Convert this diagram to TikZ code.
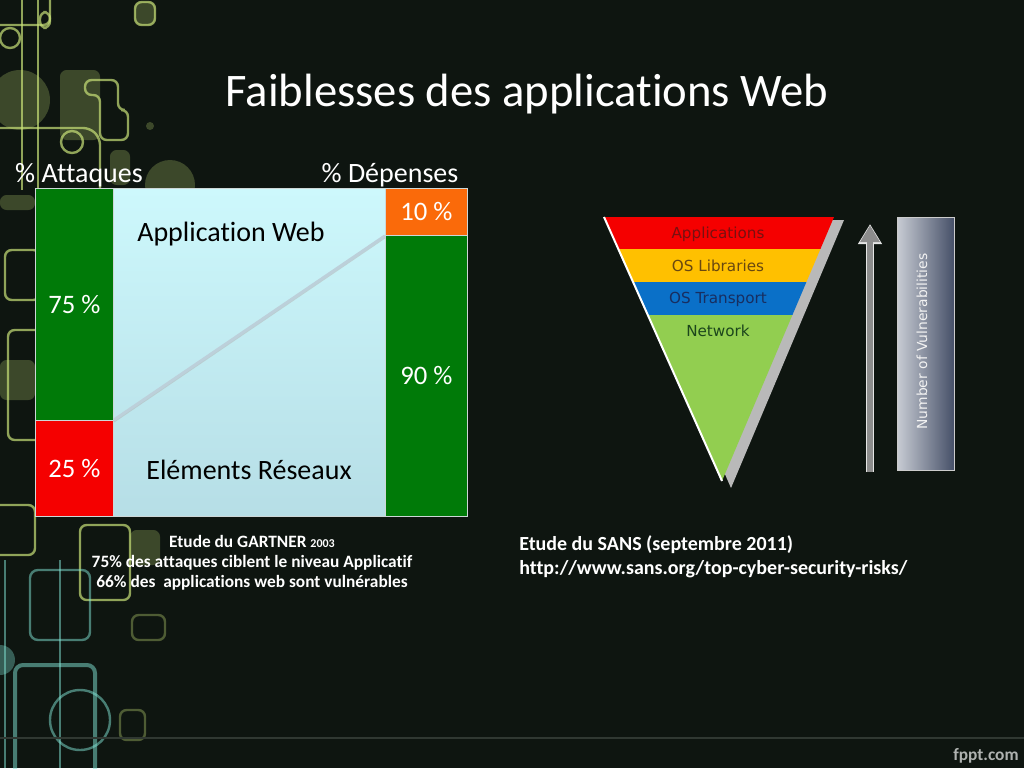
\documentclass[tikz,border=0pt]{standalone}
\usepackage{fontspec}
\setmainfont{Carlito}[Ligatures=NoCommon]
\newfontfamily\verdana{DejaVu Sans}
\usetikzlibrary{arrows.meta}

\definecolor{bgdark}{RGB}{14,21,16}
\definecolor{footline}{RGB}{48,56,50}
\definecolor{fpptgray}{RGB}{175,178,176}
\definecolor{decoolive}{RGB}{200,225,120}
\definecolor{decocyan}{RGB}{130,230,215}
\definecolor{cellline}{RGB}{205,215,215}
\definecolor{attgreen}{RGB}{0,122,8}
\definecolor{attred}{RGB}{245,0,0}
\definecolor{deporange}{RGB}{250,106,10}
\definecolor{webtop}{RGB}{205,248,252}
\definecolor{webbot}{RGB}{182,222,230}
\definecolor{diagline}{RGB}{188,208,218}
\definecolor{layred}{RGB}{245,0,0}
\definecolor{layyellow}{RGB}{255,192,0}
\definecolor{layblue}{RGB}{10,112,200}
\definecolor{laygreen}{RGB}{146,206,80}
\definecolor{txtred}{RGB}{120,16,16}
\definecolor{txtbrown}{RGB}{105,72,16}
\definecolor{txtblue}{RGB}{24,46,96}
\definecolor{txtgreen}{RGB}{28,70,28}
\definecolor{arrowgray}{RGB}{140,140,140}
\definecolor{barlight}{RGB}{200,204,212}
\definecolor{bardark}{RGB}{70,80,104}

\begin{document}
\begin{tikzpicture}[x=0.75pt,y=-0.75pt,
    cell/.style={draw=cellline,line width=0.6pt,inner sep=0pt,anchor=north west,
                 text=white,font=\fontsize{20}{24}\selectfont},
    head/.style={text=white,anchor=base,font=\fontsize{21}{25}\selectfont},
    zone/.style={text=black,anchor=base,font=\fontsize{21}{25}\selectfont},
    note/.style={text=white,inner sep=0pt,font=\bfseries\fontsize{13}{15}\selectfont},
    layer/.style={anchor=base,font=\verdana\fontsize{11.4}{13}\selectfont},
    deco/.style={draw=decoolive,line width=1.8pt,rounded corners=5pt,opacity=0.7},
    decofill/.style={fill=decoolive,rounded corners=5pt,opacity=0.25},
    decocy/.style={draw=decocyan,line width=1.8pt,rounded corners=6pt,opacity=0.5}]

    % Background
    \fill[bgdark] (0,0) rectangle (1024,768);
    \useasboundingbox (0,0) rectangle (1024,768);

    % Decoration on the left
    \begin{scope}
        \clip (0,0) rectangle (200,768);
        \draw[deco] (-10,-10) rectangle (50,25);
        \draw[deco] (22,0) -- (22,190);
        \draw[deco] (38,0) -- (38,190);
        \draw[deco] (10,38) circle (10);
        \draw[deco] (40,12) rectangle (50,28);
        \fill[decofill] (135,2) rectangle (155,25);
        \draw[deco] (135,2) rectangle (155,25);
        \fill[decofill] (60,70) rectangle (100,140);
        \draw[deco] (85,80) -- (118,80) -- (118,110) -- (128,110) -- (128,140) -- (100,140) -- (100,95) -- (85,95) -- cycle;
        \fill[decofill] (20,100) circle (30);
        \draw[deco] (-10,128) -- (90,128) -- (100,138) -- (100,200);
        \draw[deco] (72,142) circle (11);
        \fill[decofill] (150,126) circle (4);
        \fill[decofill] (170,185) circle (25);
        \fill[decofill] (110,150) rectangle (130,185);
        \fill[decofill] (0,195) rectangle (35,210);
        \draw[deco] (5,250) rectangle (40,300);
        \draw[deco] (8,330) rectangle (60,440);
        \fill[decofill] (0,360) rectangle (35,400);
        \draw[deco] (-10,505) rectangle (35,555);
        \draw[deco] (80,525) rectangle (130,600);
        \fill[decofill] (130,530) rectangle (160,565);
        \draw[decocy] (30,570) rectangle (90,640);
        \draw[decocy] (5,560) -- (5,768);
        \draw[decocy] (60,560) -- (60,768);
        \fill[decocyan,opacity=0.35] (0,660) circle (15);
        \draw[decocy,line width=3pt] (15,665) rectangle (95,790);
        \draw[decocy] (80,720) circle (30);
        \draw[deco,opacity=0.35] (120,710) rectangle (145,740);
        \draw[deco,opacity=0.35] (132,615) rectangle (165,640);
    \end{scope}

    % Title
    \node[anchor=base,text=white,font=\fontsize{35}{42}\selectfont] (title) at (527,106) {Faiblesses des applications Web};

    % Chart
    \node[head] (attaques) at (79,182) {\% Attaques};
    \node[head] (depenses) at (390,182) {\% Dépenses};
    \node[cell,top color=webtop,bottom color=webbot,minimum width=204pt,minimum height=246pt] (webzone) at (113,188) {};
    \node[cell,fill=attgreen,minimum width=58.5pt,minimum height=174pt] (att75) at (35,188) {75 \%};
    \node[cell,fill=attred,minimum width=58.5pt,minimum height=72pt] (att25) at (35,420) {25 \%};
    \node[cell,fill=deporange,minimum width=61.5pt,minimum height=35.25pt] (dep10) at (385,188) {10 \%};
    \node[cell,fill=attgreen,minimum width=61.5pt,minimum height=210.75pt] (dep90) at (385,235) {90 \%};
    \node[zone] (appweb) at (231,241) {Application Web};
    \node[zone] (reseaux) at (249,479) {Eléments Réseaux};
    \draw[gray!60,line width=1.5pt,opacity=0.5] ([yshift=-1.2pt]att25.north east) -- ([yshift=-1.2pt]dep10.south west);
    \draw[diagline,line width=2.2pt] (att25.north east) -- (dep10.south west);

    % Captions
    \node[note,align=center,anchor=north] (gartner) at (252,535)
        {Etude du GARTNER {\fontsize{9}{15}\selectfont 2003}\\
         75\% des attaques ciblent le niveau Applicatif\\
         66\% des\ \ applications web sont vulnérables};
    \node[note,align=left,anchor=north west,font=\bfseries\fontsize{15}{18}\selectfont] (sans) at (519,535)
        {Etude du SANS (septembre 2011)\\
         http://www.sans.org/top-cyber-security-risks/};

    % Triangle
    \fill[gray!55] (614,220) -- (844,220) -- (731,488) -- cycle;
    \begin{scope}
        \clip (604,217) -- (834,217) -- (722,481) -- cycle;
        \foreach \ytop/\ybot/\col in {217/249/layred,249/282/layyellow,282/315/layblue,315/485/laygreen}
            \fill[\col] (600,\ytop) rectangle (840,\ybot);
    \end{scope}
    \draw[white,line width=1.5pt] (604,217) -- (722,481);
    \foreach \name/\y/\txt/\tcol in {app/238/Applications/txtred,lib/271/OS Libraries/txtbrown,
                                     trans/303/OS Transport/txtblue,net/336/Network/txtgreen}
        \node[layer,text=\tcol] (lay\name) at (718,\y) {\txt};

    % Arrow and bar
    \coordinate (arrbot) at (870,472);
    \coordinate (arrtop) at (870,224);
    \draw[white!80!gray,line width=6.5pt,-{Triangle[length=15pt,width=17pt]}] (arrbot) -- (arrtop);
    \draw[arrowgray,line width=4.5pt,shorten >=1pt,-{Triangle[length=12.5pt,width=14pt]}] (arrbot) -- (arrtop);
    \node[draw=gray!40,line width=0.75pt,left color=barlight,right color=bardark,
          minimum width=42.75pt,minimum height=189.75pt,inner sep=0pt] (vulnbar) at (925.5,343.5) {};
    \node[rotate=90,text=white!90!gray,font=\verdana\fontsize{10.4}{12}\selectfont] (vulntxt) at (922,341.5) {Number of Vulnerabilities};

    % Footer
    \draw[footline,line width=1.5pt] (0,738) -- (1024,738);
    \node[anchor=base,text=fpptgray,font=\bfseries\fontsize{13}{15}\selectfont] (fppt) at (986,760) {fppt.com};
\end{tikzpicture}
\end{document}
